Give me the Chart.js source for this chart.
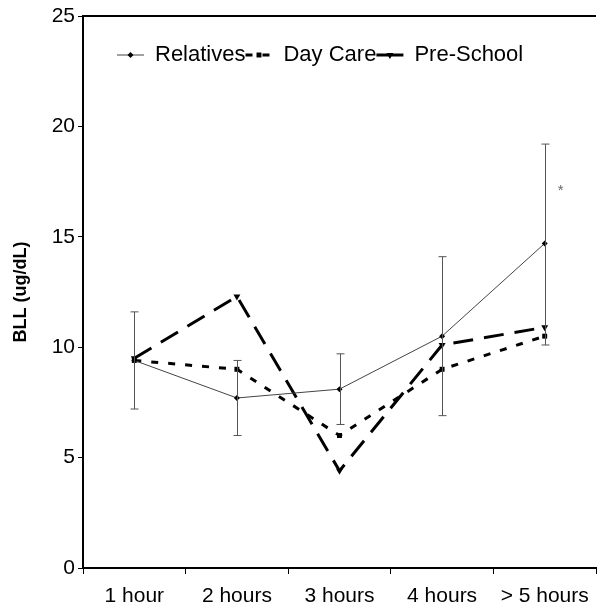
<!DOCTYPE html>
<html>
<head>
<meta charset="utf-8">
<script src="https://cdn.jsdelivr.net/npm/chart.js@4.4.1/dist/chart.umd.min.js"></script>
<style>
html, body { margin: 0; padding: 0; overflow: hidden; background: #fff; }
canvas { display: block; }
</style>
</head>
<body>
<canvas id="c" width="600" height="609"></canvas>
<script>
const categories = ['1 hour', '2 hours', '3 hours', '4 hours', '> 5 hours'];
const relatives = [9.4, 7.7, 8.1, 10.5, 14.7];
const relativesLow = [7.2, 6.0, 6.5, 6.9, 10.1];
const relativesHigh = [11.6, 9.4, 9.7, 14.1, 19.2];
const dayCare = [9.4, 9.0, 6.0, 9.0, 10.5];
const preSchool = [9.5, 12.3, 4.4, 10.1, 10.9];
const yTicks = [0, 5, 10, 15, 20, 25];
const seriesNames = ['Relatives', 'Day Care', 'Pre-School'];
const asteriskIndex = 4;
const asteriskValue = 17.2;

const FONT = '"Liberation Sans", Arial, sans-serif';

const errorBars = {
  id: 'errorBars',
  afterDatasetsDraw(chart) {
    const ctx = chart.ctx, x = chart.scales.x, y = chart.scales.y;
    ctx.save();
    ctx.strokeStyle = '#555';
    ctx.lineWidth = 1;
    relatives.forEach((v, i) => {
      const px = Math.round(x.getPixelForValue(i)) + 0.5;
      const top = y.getPixelForValue(relativesHigh[i]);
      const bot = y.getPixelForValue(relativesLow[i]);
      ctx.beginPath();
      ctx.moveTo(px, top); ctx.lineTo(px, bot);
      ctx.moveTo(px - 4, top); ctx.lineTo(px + 4, top);
      ctx.moveTo(px - 4, bot); ctx.lineTo(px + 4, bot);
      ctx.stroke();
    });
    ctx.fillStyle = '#666';
    ctx.font = '15px ' + FONT;
    ctx.textAlign = 'center';
    ctx.textBaseline = 'middle';
    ctx.fillText('*', x.getPixelForValue(asteriskIndex) + 16, y.getPixelForValue(asteriskValue) + 3);
    ctx.restore();
  }
};

// in-plot legend drawn from the datasets (line sample + marker + label)
const inLegend = {
  id: 'inLegend',
  afterDraw(chart) {
    const a = chart.chartArea, ctx = chart.ctx;
    ctx.save();
    ctx.font = '22px ' + FONT;
    ctx.textBaseline = 'middle';
    ctx.textAlign = 'left';
    let cx = a.left + 34;
    const cy = a.top + 39;
    chart.data.datasets.forEach((ds) => {
      const sw = 27;
      ctx.save();
      ctx.strokeStyle = ds.borderColor;
      ctx.lineWidth = ds.borderWidth;
      ctx.setLineDash(ds.legendDash || []);
      ctx.beginPath();
      ctx.moveTo(cx, cy); ctx.lineTo(cx + sw, cy);
      ctx.stroke();
      ctx.restore();
      Chart.helpers.drawPoint(ctx, {
        pointStyle: ds.pointStyle, radius: ds.pointRadius, rotation: ds.pointRotation || 0,
        borderWidth: 0
      }, cx + sw / 2, cy);
      ctx.fillStyle = '#000';
      ctx.fillText(ds.label, cx + sw + 11, cy);
      cx += sw + 11 + ctx.measureText(ds.label).width;
    });
    ctx.restore();
  }
};

const frame = {
  id: 'frame',
  afterDraw(chart) {
    const a = chart.chartArea, ctx = chart.ctx;
    ctx.save();
    ctx.strokeStyle = '#000';
    ctx.lineWidth = 2;
    ctx.beginPath();
    ctx.moveTo(a.left, a.top);
    ctx.lineTo(a.right, a.top);
    ctx.stroke();
    ctx.restore();
  }
};

new Chart(document.getElementById('c'), {
  type: 'line',
  data: {
    labels: categories,
    datasets: [
      {
        label: seriesNames[0], data: relatives,
        borderColor: '#444', backgroundColor: '#000', borderWidth: 1, legendDash: [],
        pointStyle: 'rectRot', pointRadius: 3, pointBackgroundColor: '#000', pointBorderColor: '#000', pointBorderWidth: 0,
        tension: 0, order: 1
      },
      {
        label: seriesNames[1], data: dayCare,
        borderColor: '#000', backgroundColor: '#000', borderWidth: 3, borderDash: [7, 10], legendDash: [7, 10],
        pointStyle: 'rect', pointRadius: 3.5, pointBackgroundColor: '#000', pointBorderColor: '#000', pointBorderWidth: 0,
        tension: 0, order: 2
      },
      {
        label: seriesNames[2], data: preSchool,
        borderColor: '#000', backgroundColor: '#000', borderWidth: 3, borderDash: [20, 11], legendDash: [],
        pointStyle: 'triangle', pointRotation: 180, pointRadius: 4, pointBackgroundColor: '#000', pointBorderColor: '#000', pointBorderWidth: 0,
        tension: 0, order: 3
      }
    ]
  },
  options: {
    responsive: false,
    animation: false,
    devicePixelRatio: 1,
    layout: { padding: { top: 16, right: 0, bottom: 0, left: 0 } },
    plugins: {
      tooltip: { enabled: false },
      legend: { display: false }
    },
    scales: {
      x: {
        type: 'category',
        offset: true,
        afterFit(scale) { scale.height = 41; },
        border: { display: true, color: '#000', width: 2 },
        grid: { display: true, drawOnChartArea: false, drawTicks: true, tickLength: 6, color: '#000', offset: true },
        ticks: { color: '#000', padding: 10, maxRotation: 0, autoSkip: false, font: { family: FONT, size: 21 } }
      },
      y: {
        min: 0, max: 25,
        afterFit(scale) { scale.width = 83; },
        afterBuildTicks(scale) { scale.ticks = yTicks.map(v => ({ value: v })); },
        border: { display: true, color: '#000', width: 2 },
        grid: { display: true, drawOnChartArea: false, drawTicks: true, tickLength: 5, color: '#000' },
        ticks: { color: '#000', padding: 3, font: { family: FONT, size: 21 } },
        title: {
          display: true, text: 'BLL (ug/dL)', color: '#000',
          font: { family: FONT, size: 18, weight: 'bold' },
          padding: { top: 10, bottom: 0 }
        }
      }
    }
  },
  plugins: [errorBars, inLegend, frame]
});
</script>
</body>
</html>
